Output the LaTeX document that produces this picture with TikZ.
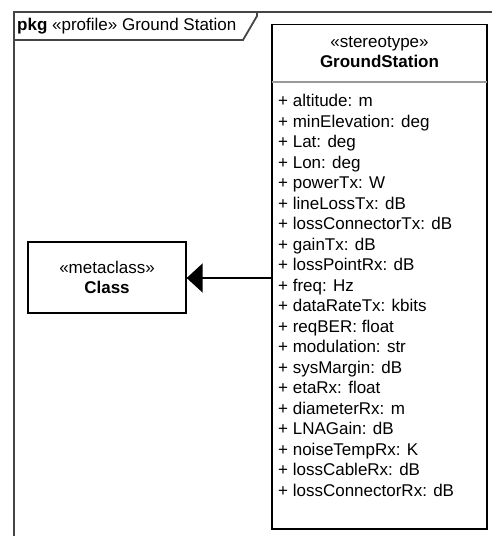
\documentclass[tikz,border=0pt]{standalone}
\usepackage{fontspec}
\setmainfont{Liberation Sans}
\usetikzlibrary{arrows.meta}
\tikzset{
  frameline/.style={draw=black!73, line width=1.8pt},
  classbox/.style={draw=black, line width=1.3pt, fill=white},
  sepline/.style={draw=black!40, line width=1.2pt},
  attr/.style={anchor=base west, inner sep=0pt, font=\fontsize{17}{20.5}\selectfont},
  hdr/.style={align=center, inner sep=0pt, font=\fontsize{17}{20}\selectfont},
  genarrow/.style={draw=black, line width=1.4pt, -{Triangle[length=16pt,width=29pt]}}
}
\begin{document}
\begin{tikzpicture}[x=1pt,y=-1pt]
\useasboundingbox (0,0) rectangle (492,536);
\clip (0,0) rectangle (492,536);
% package frame
\draw[frameline] (14,545) -- (14,12) -- (500,12);
\draw[frameline] (14,40) -- (243,40) -- (257,16) -- (257,12);
\node[anchor=base west, inner sep=0pt, font=\fontsize{17}{20}\selectfont] (title) at (17,30) {\textbf{pkg} «profile» Ground Station};
% GroundStation stereotype
\path[classbox] (272,24.5) rectangle (487,529);
\coordinate (gsw) at (272,278);
\draw[sepline] (272,82) -- (487,82);
\node[hdr] (gshead) at (379.5,52) {«stereotype»\\\textbf{GroundStation}};
\foreach \t [count=\i from 0] in {altitude: m, minElevation: deg, Lat: deg, Lon: deg, powerTx: W, lineLossTx: dB, lossConnectorTx: dB, gainTx: dB, lossPointRx: dB, freq: Hz, dataRateTx: kbits, reqBER: float, modulation: str, sysMargin: dB, etaRx: float, diameterRx: m, LNAGain: dB, noiseTempRx: K, lossCableRx: dB, lossConnectorRx: dB}
  \node[attr] (a\i) at (278,106.7+20.5*\i) {+ \t};
% metaclass
\node[classbox, minimum width=158pt, minimum height=71pt, align=center, inner sep=0pt, font=\fontsize{17}{20}\selectfont] (cls) at (107,277.5) {«metaclass»\\\textbf{Class}};
\draw[genarrow] (gsw) -- (cls.east |- gsw);
\end{tikzpicture}
\end{document}
